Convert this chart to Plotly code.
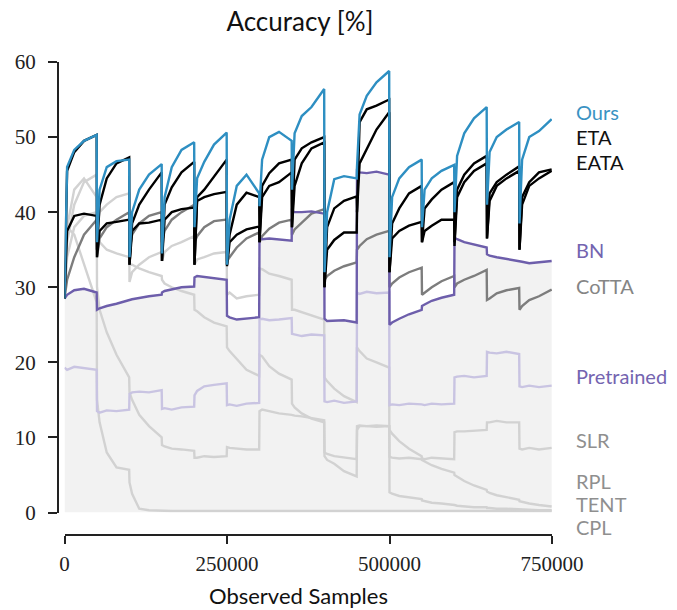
import plotly.graph_objects as go

# ---------------- data ----------------
SEGMENT_LEN = 50000
N_SEGMENTS = 15
OFFSETS = [0, 4000, 15000, 30000, 49500]   # sample offsets inside each domain segment

samples = [SEGMENT_LEN * k + o for k in range(N_SEGMENTS) for o in OFFSETS]

ours = [
    [28.5, 46.0, 48.3, 49.5, 50.3], [36.0, 43.0, 46.0, 46.8, 47.0], [34.0, 40.0, 43.0, 45.0, 46.4],
    [34.5, 42.0, 46.0, 48.3, 49.3], [38.0, 44.5, 46.7, 49.0, 50.6], [33.0, 39.0, 43.5, 45.0, 42.5],
    [40.8, 47.0, 50.0, 50.7, 49.5], [43.0, 50.5, 52.8, 54.0, 56.4], [32.0, 40.0, 44.4, 44.8, 44.5],
    [46.0, 53.0, 55.5, 57.3, 58.8], [34.0, 42.0, 44.5, 46.0, 47.0], [38.0, 43.0, 44.5, 45.5, 46.3],
    [40.0, 47.5, 50.5, 52.5, 54.0], [41.0, 48.0, 50.0, 51.0, 52.0], [38.5, 47.0, 50.0, 50.8, 52.4],
]
eta = [
    [28.5, 45.5, 48.0, 49.5, 50.3], [35.0, 41.0, 44.5, 46.5, 47.3], [33.0, 38.5, 41.0, 43.0, 45.3],
    [33.5, 41.0, 43.3, 45.3, 46.7], [33.0, 42.0, 43.0, 44.8, 47.0], [33.0, 37.0, 41.0, 42.6, 42.0],
    [36.0, 43.5, 45.2, 46.5, 47.0], [38.0, 47.0, 48.5, 49.3, 50.0], [30.0, 38.0, 40.5, 41.5, 42.1],
    [40.0, 52.0, 53.7, 54.2, 55.0], [32.0, 38.5, 40.5, 42.5, 43.5], [36.0, 40.5, 41.7, 43.0, 44.0],
    [36.0, 43.0, 45.0, 46.5, 47.5], [36.5, 42.5, 44.0, 45.0, 46.1], [35.0, 42.0, 44.0, 45.3, 45.7],
]
eata = [
    [28.5, 37.5, 39.5, 39.8, 39.5], [34.0, 37.5, 38.5, 38.7, 39.0], [33.0, 37.5, 38.5, 38.6, 39.0],
    [33.5, 39.0, 40.0, 40.4, 40.6], [33.0, 41.5, 42.0, 42.4, 42.7], [32.8, 36.0, 37.0, 37.7, 38.1],
    [36.0, 42.0, 43.5, 44.0, 45.3], [38.0, 43.5, 46.5, 48.5, 49.3], [30.0, 35.0, 36.3, 37.3, 37.3],
    [40.0, 46.5, 48.5, 51.0, 53.3], [32.0, 36.5, 37.5, 38.2, 38.7], [36.0, 37.5, 38.2, 39.0, 39.0],
    [35.5, 42.0, 44.0, 45.5, 46.5], [36.5, 41.5, 43.5, 44.5, 45.5], [35.0, 41.0, 43.5, 44.5, 45.5],
]
bn = [
    [28.5, 29.0, 29.6, 29.8, 29.3], [27.0, 27.2, 27.5, 27.8, 28.2], [28.3, 28.4, 28.6, 28.8, 29.0],
    [29.3, 29.5, 29.7, 30.0, 30.1], [31.3, 31.5, 31.4, 31.2, 31.0], [26.2, 26.0, 25.7, 25.8, 26.0],
    [36.6, 36.4, 36.5, 36.4, 36.2], [40.2, 40.0, 40.0, 40.1, 39.8], [25.8, 25.5, 25.5, 25.6, 25.3],
    [45.5, 45.3, 45.2, 45.4, 45.0], [25.0, 25.3, 25.8, 26.4, 27.0], [27.5, 27.7, 28.2, 28.6, 29.0],
    [36.6, 36.4, 36.0, 35.7, 35.3], [34.4, 34.2, 34.0, 33.8, 33.5], [33.5, 33.4, 33.2, 33.3, 33.5],
]
cotta = [
    [28.5, 31.0, 34.0, 37.0, 39.0], [34.0, 36.5, 38.0, 39.0, 40.0], [35.0, 37.0, 38.5, 39.5, 40.0],
    [36.0, 37.5, 39.0, 40.0, 41.0], [36.0, 36.8, 38.0, 38.8, 39.0], [33.5, 34.0, 35.3, 36.5, 37.3],
    [36.0, 36.8, 37.8, 38.6, 39.0], [37.0, 37.7, 38.6, 39.8, 40.4], [31.0, 31.5, 32.2, 32.8, 33.3],
    [35.0, 35.5, 36.4, 37.0, 37.5], [30.0, 30.5, 31.3, 32.0, 32.6], [29.0, 29.3, 30.0, 30.8, 31.5],
    [30.0, 30.5, 31.0, 31.5, 32.3], [28.3, 28.5, 29.2, 29.6, 29.9], [27.0, 27.5, 28.3, 28.8, 29.7],
]
pretrained = [
    [19.3, 19.0, 19.4, 19.2, 19.0], [13.5, 13.3, 13.6, 13.5, 13.7], [15.8, 16.0, 16.1, 16.0, 16.3],
    [13.8, 13.9, 13.7, 14.0, 14.1], [15.6, 16.2, 16.8, 17.0, 17.2], [14.3, 14.4, 14.2, 14.5, 14.6],
    [25.7, 25.8, 25.6, 25.7, 25.9], [23.8, 23.7, 23.5, 23.7, 23.6], [14.8, 14.7, 14.9, 14.6, 14.8],
    [29.3, 29.1, 29.4, 29.2, 29.3], [14.3, 14.4, 14.3, 14.5, 14.4], [14.4, 14.3, 14.5, 14.4, 14.5],
    [18.0, 18.1, 18.2, 18.0, 18.2], [21.4, 21.3, 21.2, 21.4, 21.1], [16.8, 16.7, 16.9, 16.7, 16.9],
]
slr = [
    [28.5, 38.0, 43.0, 44.5, 42.0], [30.0, 27.0, 24.0, 21.0, 18.0], [16.0, 15.0, 13.0, 11.5, 10.0],
    [9.0, 8.8, 8.5, 8.4, 8.2], [7.3, 7.3, 7.5, 7.4, 7.5], [8.7, 8.6, 8.5, 8.4, 8.4],
    [13.5, 13.7, 13.5, 13.2, 13.0], [13.0, 12.9, 12.8, 12.6, 12.3], [8.0, 7.8, 7.5, 7.3, 7.1],
    [11.0, 11.5, 11.5, 11.6, 11.5], [7.4, 7.3, 7.2, 7.3, 7.1], [7.2, 7.1, 7.3, 7.2, 7.1],
    [10.7, 10.8, 10.8, 10.9, 11.0], [12.0, 12.0, 12.2, 12.0, 12.0], [8.5, 8.4, 8.6, 8.4, 8.6],
]
rpl = [
    [28.5, 34.0, 38.0, 39.5, 40.0], [37.0, 36.0, 35.0, 34.5, 34.0], [33.0, 33.0, 32.5, 32.0, 31.5],
    [31.0, 30.5, 30.0, 29.5, 29.0], [27.0, 26.8, 26.0, 25.3, 24.8], [22.0, 21.5, 20.5, 19.0, 18.2],
    [21.0, 20.8, 19.5, 18.5, 17.7], [14.5, 14.0, 13.2, 12.5, 12.0], [7.5, 7.0, 6.5, 5.5, 4.8],
    [11.5, 11.6, 11.5, 11.4, 11.5], [11.0, 10.5, 9.5, 8.5, 7.5], [7.0, 6.8, 6.3, 5.8, 5.3],
    [5.0, 4.8, 4.2, 3.6, 3.0], [2.8, 2.6, 2.3, 2.0, 1.7], [1.5, 1.4, 1.2, 1.0, 0.8],
]
tent = [
    [28.5, 36.0, 41.0, 44.0, 45.0], [38.0, 40.0, 41.0, 42.0, 42.5], [30.7, 32.0, 33.0, 34.0, 34.7],
    [33.5, 34.7, 35.5, 36.0, 36.8], [33.0, 33.7, 34.0, 34.5, 34.7], [29.0, 29.3, 28.5, 28.8, 29.0],
    [32.5, 32.4, 31.8, 31.5, 31.0], [27.0, 27.0, 26.7, 26.3, 25.7], [18.0, 17.5, 16.5, 15.5, 14.7],
    [22.0, 21.5, 20.5, 20.0, 19.3], [2.7, 2.5, 2.2, 2.0, 1.8], [1.6, 1.5, 1.3, 1.2, 1.1],
    [1.0, 0.9, 0.8, 0.7, 0.7], [0.6, 0.6, 0.5, 0.5, 0.4], [0.4, 0.4, 0.3, 0.3, 0.3],
]
cpl = [
    [28.5, 38.0, 37.0, 33.0, 28.0], [15.0, 12.0, 8.0, 6.0, 5.7], [4.0, 2.5, 0.5, 0.3, 0.2],
    [0.2, 0.2, 0.2, 0.2, 0.2], [0.2, 0.2, 0.2, 0.2, 0.2], [0.2, 0.2, 0.2, 0.2, 0.2],
    [0.2, 0.2, 0.2, 0.2, 0.2], [0.2, 0.2, 0.2, 0.2, 0.2], [0.2, 0.2, 0.2, 0.2, 0.2],
    [0.2, 0.2, 0.2, 0.2, 0.2], [0.2, 0.2, 0.2, 0.2, 0.2], [0.2, 0.2, 0.2, 0.2, 0.2],
    [0.2, 0.2, 0.2, 0.2, 0.2], [0.2, 0.2, 0.2, 0.2, 0.2], [0.2, 0.2, 0.2, 0.2, 0.2],
]

x_ticks = [0, 250000, 500000, 750000]
y_ticks = [0, 10, 20, 30, 40, 50, 60]

labels = ["Ours", "ETA", "EATA", "BN", "CoTTA", "Pretrained", "SLR", "RPL", "TENT", "CPL"]

# ---------------- styling ----------------
W, H = 677, 610
ML, MR, MT, MB = 58, 125, 62, 75
PW, PH = W - ML - MR, H - MT - MB
X_DOM0 = 6.5 / PW
Y_DOM0 = 22.5 / PH

SANS = "Lato, 'Open Sans', sans-serif"
SERIF = "'Liberation Serif', 'DejaVu Serif', serif"

LIGHT = "#d2d2d2"
styles = {
    "Ours": dict(color="#2e8fc2", label="#3a93c3", ypx=112),
    "ETA": dict(color="#000000", label="#111111", ypx=137),
    "EATA": dict(color="#000000", label="#111111", ypx=162),
    "BN": dict(color="#6d5eab", label="#7464b0", ypx=250),
    "CoTTA": dict(color="#7d7d7d", label="#858585", ypx=286),
    "Pretrained": dict(color="#c9c4e2", label="#7464b0", ypx=376),
    "SLR": dict(color=LIGHT, label="#8f8f8f", ypx=440),
    "RPL": dict(color=LIGHT, label="#8f8f8f", ypx=481),
    "TENT": dict(color=LIGHT, label="#8f8f8f", ypx=504),
    "CPL": dict(color=LIGHT, label="#8f8f8f", ypx=527),
}

def flat(seg):
    return [v for s in seg for v in s]

series = {
    "Ours": ours, "ETA": eta, "EATA": eata, "BN": bn, "CoTTA": cotta,
    "Pretrained": pretrained, "SLR": slr, "RPL": rpl, "TENT": tent, "CPL": cpl,
}

fig = go.Figure()

# shaded area below BN
fig.add_trace(go.Scatter(x=samples, y=flat(bn), mode="lines", line=dict(width=0),
                         fill="tozeroy", fillcolor="#f2f2f2", hoverinfo="skip", showlegend=False))

draw_order = ["CPL", "TENT", "RPL", "SLR", "Pretrained", "CoTTA", "BN", "EATA", "ETA", "Ours"]
for name in draw_order:
    fig.add_trace(go.Scatter(x=samples, y=flat(series[name]), mode="lines", name=name,
                             line=dict(color=styles[name]["color"], width=2.4),
                             showlegend=False))

annotations = []
for name in labels:
    st = styles[name]
    annotations.append(dict(text=name, xref="paper", yref="paper",
                            x=(574 - ML) / PW, y=(H - MB - st["ypx"]) / PH,
                            xanchor="left", yanchor="middle", showarrow=False,
                            font=dict(family=SANS, size=20, color=st["label"])))
annotations.append(dict(text="Observed Samples", xref="paper", yref="paper",
                        x=(298 - ML) / PW, y=(H - MB - 595) / PH, xanchor="center",
                        yanchor="middle", showarrow=False,
                        font=dict(family=SANS, size=22, color="#111111")))

fig.update_layout(
    width=W, height=H,
    margin=dict(l=ML, r=MR, t=MT, b=MB, pad=0),
    paper_bgcolor="white", plot_bgcolor="white",
    title=dict(text="Accuracy [%]", x=(300 - ML) / PW, xref="paper", xanchor="center",
               y=1 - 22 / H, yref="container", yanchor="middle",
               font=dict(family=SANS, size=26, color="#111111")),
    xaxis=dict(range=[0, 750000], domain=[X_DOM0, 1], anchor="free", position=0,
               showline=True, linecolor="#222222", linewidth=2, ticks="outside",
               ticklen=8, tickwidth=2, tickcolor="#222222", tickvals=x_ticks,
               ticktext=[str(v) for v in x_ticks], showgrid=False, zeroline=False,
               ticklabelstandoff=2,
               tickfont=dict(family=SERIF, size=21, color="#222222")),
    yaxis=dict(range=[0, 60], domain=[Y_DOM0, 1], anchor="free", position=0,
               showline=True, linecolor="#222222", linewidth=2, ticks="outside",
               ticklen=9, tickwidth=2, tickcolor="#222222", tickvals=y_ticks,
               ticktext=[str(v) for v in y_ticks], showgrid=False, zeroline=False,
               ticklabelstandoff=8,
               tickfont=dict(family=SERIF, size=21, color="#222222")),
    annotations=annotations,
)

fig.write_html("out.html")
